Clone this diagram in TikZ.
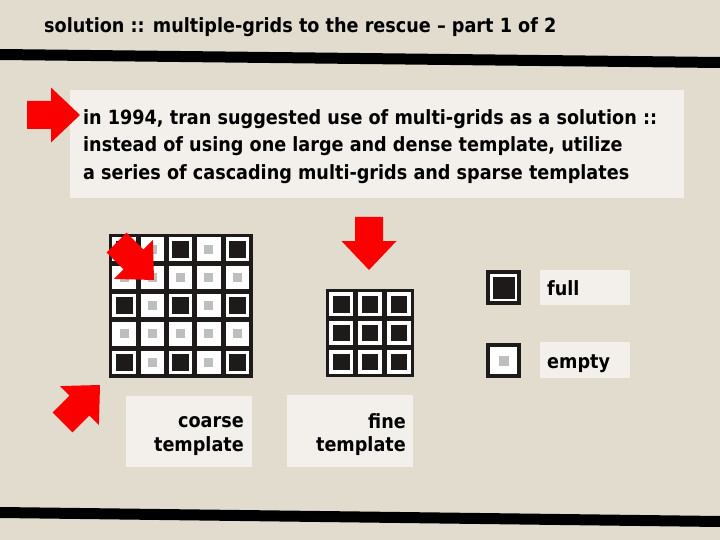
\documentclass[tikz,border=0pt]{standalone}
\usepackage{fontspec}
\newfontfamily\slidefont{DejaVu Sans Condensed Bold}
\usepackage{tikz}
\definecolor{bgbeige}{RGB}{226,220,207}
\definecolor{panelgray}{RGB}{243,240,235}
\definecolor{arrowred}{RGB}{250,0,0}
\definecolor{gridblack}{RGB}{30,26,26}
\definecolor{dotgray}{RGB}{190,190,190}
\newcommand{\redarrow}[2]{%
  \fill[arrowred, shift={#1}, rotate=#2] (0,0) -- (-29,-27.5) -- (-29,-14) -- (-53,-14)
    -- (-53,14) -- (-29,14) -- (-29,27.5) -- cycle;}

\begin{document}
\begin{tikzpicture}[
    x=1pt, y=-1pt,
    panel/.style={fill=panelgray},
    rule line/.style={line width=11pt},
    every node/.style={color=black, inner sep=0pt, font=\slidefont\fontsize{19.6}{22}\selectfont}
    ]

    % background
    \fill[bgbeige] (0,0) rectangle (720,540);
    \useasboundingbox (0,0) rectangle (720,540);
    % define arrow tips
    \coordinate (tipintro) at (80,115);
    \coordinate (tipcoarse) at (154,280);
    \coordinate (tipfine) at (369,270);
    \coordinate (tipcorner) at (100,385);
    % title and rules
    \node[anchor=base west] (title) at (44,33) {solution :: multiple-grids to the rescue – part 1 of 2};
    \draw[rule line] (0,54.5) -- (720,62.5);
    \draw[rule line] (0,512.5) -- (720,521.5);
    % intro text
    \fill[panel] (70,90) rectangle (684,198);
    \node[anchor=base west] (intro1) at (83,125) {in 1994, tran suggested use of multi-grids as a solution ::};
    \node[anchor=base west] (intro2) at (83,152) {instead of using one large and dense template, utilize};
    \node[anchor=base west] (intro3) at (83,180) {a series of cascading multi-grids and sparse templates};
    % coarse template
    \fill[gridblack] (109,234) rectangle (253,378);
    \foreach \i in {0,...,4}
      \foreach \j in {0,...,4} {
        \fill[white] (112.3+\i*28.3,237.3+\j*28.3) rectangle ++(23.5,23.5);
        \fill[dotgray] (119.55+\i*28.3,244.55+\j*28.3) rectangle ++(9,9);
      }
    \foreach \i in {0,2,4}
      \foreach \j in {0,2,4}
        \fill[gridblack] (115.6+\i*28.3,240.6+\j*28.3) rectangle ++(16.9,16.9);
    % fine template
    \fill[gridblack] (326,289) rectangle (414,377);
    \foreach \i in {0,1,2}
      \foreach \j in {0,1,2} {
        \fill[white] (329.3+\i*28.95,292.3+\j*28.95) rectangle ++(23.5,23.5);
        \fill[gridblack] (332.6+\i*28.95,295.6+\j*28.95) rectangle ++(16.9,16.9);
      }
    % legend
    \fill[gridblack] (486,270) rectangle (521,305);
    \fill[white] (490,274) rectangle (517,301);
    \fill[gridblack] (492.5,276.5) rectangle (514.5,298.5);
    \fill[gridblack] (486,343) rectangle (521,378);
    \fill[white] (490,347) rectangle (517,374);
    \fill[dotgray] (499,355.5) rectangle (509,365.5);
    \fill[panel] (540,270) rectangle (630,305);
    \node[anchor=base west] (fullname) at (547,295) {full};
    \fill[panel] (540,342) rectangle (630,378);
    \node[anchor=base west] (emptyname) at (547,368) {empty};
    % template labels
    \fill[panel] (126,396) rectangle (252,467);
    \node[anchor=base east] (coarsename) at (244,427) {coarse};
    \node[anchor=base east] (coarsename2) at (244,451) {template};
    \fill[panel] (287,395) rectangle (413,467);
    \node[anchor=base east] (finename) at (406,428) {fine};
    \node[anchor=base east] (finename2) at (406,451) {template};
    % red arrows
    \redarrow{(tipintro)}{0}
    \redarrow{(tipcoarse)}{-45}
    \redarrow{(tipfine)}{-90}
    \redarrow{(tipcorner)}{45}

\end{tikzpicture}
\end{document}
